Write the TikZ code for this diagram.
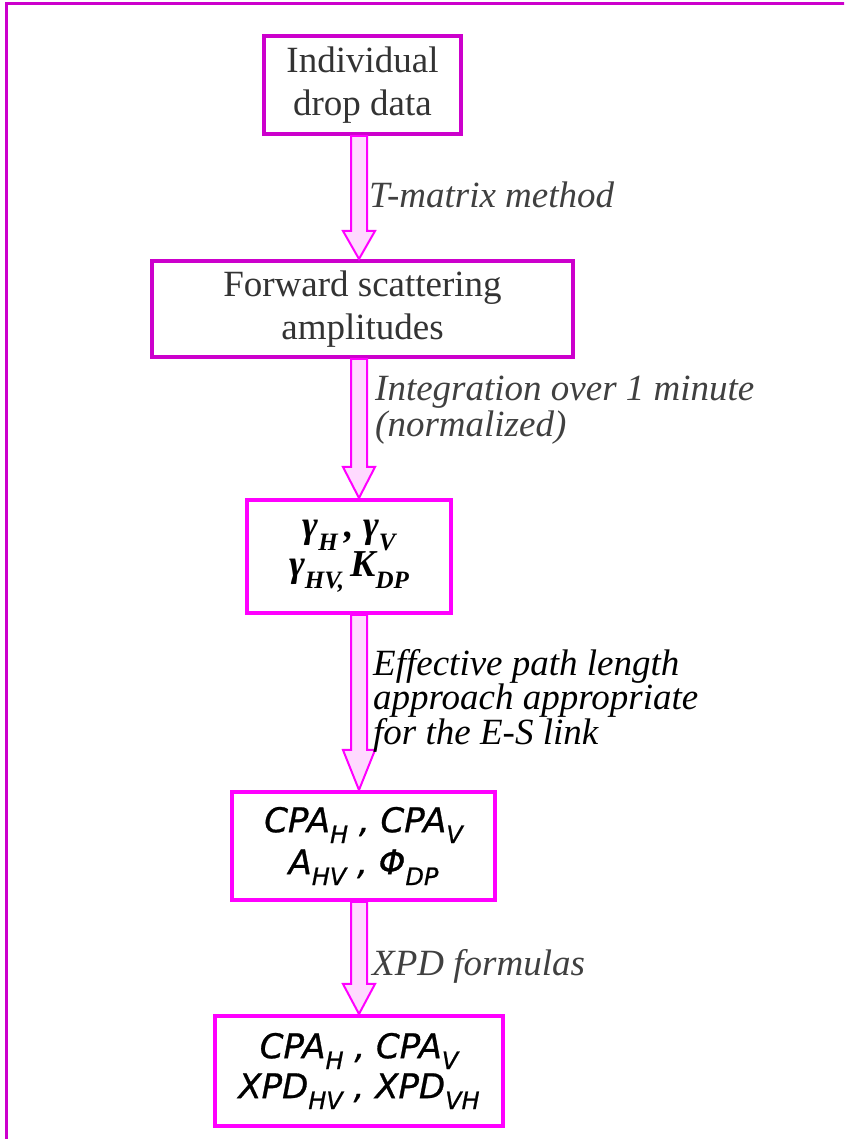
\documentclass[tikz,border=0pt]{standalone}
\usepackage{fontspec}
\setmainfont{Liberation Serif}
\newfontfamily\sansit[FakeBold=0.8]{DejaVu Sans}
\usetikzlibrary{calc,positioning}
\definecolor{frameplum}{RGB}{204,0,204}
\definecolor{brightmag}{RGB}{255,0,255}
\definecolor{arrowpink}{RGB}{255,218,255}
\definecolor{textgray}{RGB}{51,51,51}
\definecolor{labelgray}{RGB}{64,64,64}
% lowered subscript in text fonts
\newcommand\lowsub[2][22]{\raisebox{-0.32em}{\fontsize{#1}{#1}\selectfont #2}}
% block arrow between two boxes, #1 = head length
\newcommand\flowarrow[3][30]{%
  \path (#2.south -| spine) coordinate (s) (#3.north -| spine) coordinate (t);
  \draw[fatarrow] ($(s)+(-8,0)$) -- ($(t)+(-8,#1)$) -- ($(t)+(-16,#1)$) -- (t)
    -- ($(t)+(16,#1)$) -- ($(t)+(8,#1)$) -- ($(s)+(8,0)$) -- cycle;}

\begin{document}
\begin{tikzpicture}[x=1pt,y=1pt,
    plainbox/.style={draw=frameplum,line width=4pt,fill=white,inner sep=0pt,
      align=center,text=textgray,font=\fontsize{37}{43}\selectfont},
    symbox/.style={draw=brightmag,line width=4pt,fill=white,inner sep=0pt,
      align=center,text=black},
    steplabel/.style={anchor=west,align=left,inner sep=0pt,text=labelgray,
      font=\itshape\fontsize{37}{36}\selectfont},
    fatarrow/.style={draw=brightmag,fill=arrowpink,line width=2pt,line join=miter}]
  \useasboundingbox (0,0) rectangle (844,1139);
  \clip (0,0) rectangle (844,1139);
  % Outer frame (only top and left edges visible)
  \draw[frameplum,line width=3pt] (6.5,-20) -- (6.5,1135.5) -- (880,1135.5);
  \coordinate (spine) at (359,0);
  % Boxes
  \node[plainbox,minimum width=197,minimum height=98] (drops) at (362.5,1054)
    {Individual\\drop data};
  \node[plainbox,minimum width=421,minimum height=96] (fsa) at (362.5,830)
    {Forward scattering\\amplitudes};
  \node[symbox,minimum width=204,minimum height=113,
    font=\bfseries\itshape\fontsize{38}{35}\selectfont] (gam) at (349,582.5)
    {γ\lowsub[25]{H}\,, γ\lowsub[25]{V}\\γ\lowsub[25]{HV,}\,K\lowsub[25]{DP}};
  \node[symbox,minimum width=263,minimum height=108,
    font=\sansit\itshape\fontsize{34}{42}\selectfont] (cpa) at (363.5,293)
    {CPA\lowsub[24]{H} , CPA\lowsub[24]{V}\\A\lowsub[24]{HV} , Φ\lowsub[24]{DP}};
  \node[symbox,minimum width=288,minimum height=110,
    font=\sansit\itshape\fontsize{34}{40}\selectfont] (xpd) at (359,68)
    {CPA\lowsub[24]{H} , CPA\lowsub[24]{V}\\XPD\lowsub[24]{HV} , XPD\lowsub[24]{VH}};
  % Arrows
  \flowarrow[28]{drops}{fsa}
  \flowarrow[31]{fsa}{gam}
  \flowarrow[40]{gam}{cpa}
  \flowarrow[30]{cpa}{xpd}
  % Step labels
  \node[steplabel] (tmat) at (369,944) {T-matrix method};
  \node[steplabel] (integ) at (375,729) {Integration over 1 minute\\(normalized)};
  \node[steplabel,text=black,font=\itshape\fontsize{37}{32}\selectfont] (epl)
    at (373,438) {Effective path length\\approach appropriate\\for the E-S link};
  \node[steplabel] (xform) at (372,173) {XPD formulas};
\end{tikzpicture}
\end{document}
